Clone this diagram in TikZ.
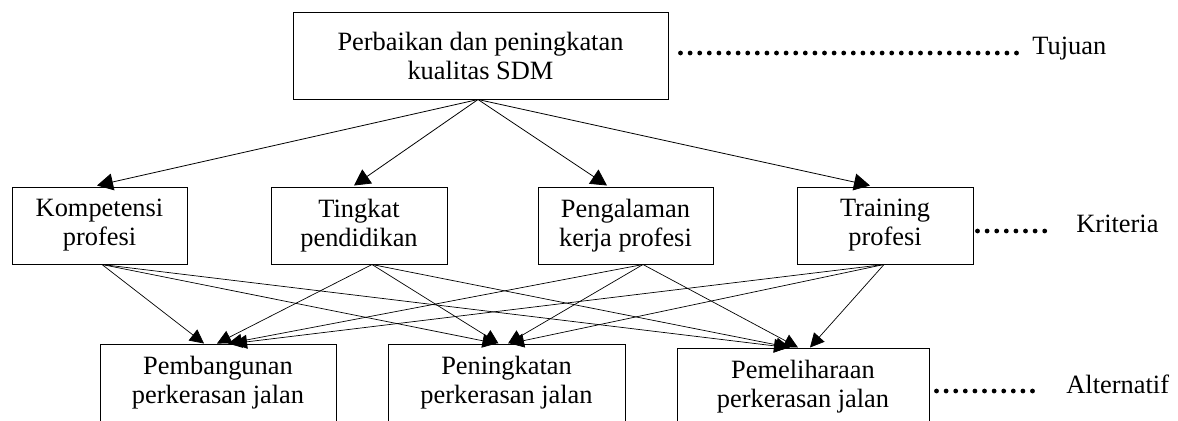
\documentclass[tikz,border=0pt]{standalone}
\usepackage{fontspec}
\setmainfont{Liberation Serif}
\usetikzlibrary{arrows.meta,calc}

\begin{document}
\begin{tikzpicture}[x=0.5pt,y=-0.5pt]

\tikzstyle{box}=[draw,line width=0.5pt,inner sep=0pt,align=center,font=\fontsize{13.2}{14.5}\selectfont]
\tikzstyle{toplink}=[line width=0.4pt,-{Triangle[length=8pt,width=8.5pt]}]
\tikzstyle{link}=[line width=0.35pt,-{Triangle[length=7pt,width=7pt]}]
\tikzstyle{dots}=[line width=2.4pt,line cap=round,dash pattern=on 0pt off 4.8pt]
\tikzstyle{level}=[anchor=base west,inner sep=0pt,font=\fontsize{13.2}{14.5}\selectfont]

\useasboundingbox (0,0) rectangle (1178,420);
\clip (0,0) rectangle (1178,420);

% Tujuan
\node[box,minimum width=187.5pt,minimum height=43.5pt] (tujuan) at (480.5,55.5) {Perbaikan dan peningkatan\\kualitas SDM};

% Kriteria
\node[box,minimum width=87.5pt,minimum height=38.5pt] (kompetensi) at (99.5,225.5) {Kompetensi\\profesi};
\node[box,minimum width=88pt,minimum height=38.5pt] (pendidikan) at (359,225.5) {Tingkat\\pendidikan};
\node[box,minimum width=87.5pt,minimum height=38.5pt] (pengalaman) at (625.5,225.5) {Pengalaman\\kerja profesi};
\node[box,minimum width=88pt,minimum height=38.5pt] (training) at (885,225.5) {Training\\profesi};

% Alternatif
\node[box,minimum width=118pt,minimum height=38.5pt] (pembangunan) at (218,382.5) {Pembangunan\\perkerasan jalan};
\node[box,minimum width=118.5pt,minimum height=38.5pt] (peningkatan) at (506.5,382.5) {Peningkatan\\perkerasan jalan};
\node[box,minimum width=126pt,minimum height=38.5pt] (pemeliharaan) at (803,386.5) {Pemeliharaan\\perkerasan jalan};

% tingkat
\node[level] (lbltujuan) at (1032,54) {Tujuan};
\node[level] (lblkriteria) at (1076,232) {Kriteria};
\node[level] (lblalternatif) at (1066,393) {Alternatif};

\draw[dots] ($(tujuan.east)+(12,-2.5)$) -- ($(lbltujuan.base west)+(-9,-1)$);
\draw[dots] ($(training.east)+(4,5.5)$) -- ($(lblkriteria.base west)+(-23,-1)$);
\draw[dots] ($(pemeliharaan.east)+(7,4.5)$) -- ($(lblalternatif.base west)+(-27,-2)$);

% tujuan -> kriteria
\draw[toplink] ($(tujuan.south)+(-2.5,0)$) -- ($(kompetensi.north)+(-2.5,-1)$);
\draw[toplink] ($(tujuan.south)+(-2.5,0)$) -- ($(pendidikan.north)+(-5,-1)$);
\draw[toplink] ($(tujuan.south)+(-2.5,0)$) -- ($(pengalaman.north)+(-18.5,-1)$);
\draw[toplink] ($(tujuan.south)+(-2.5,0)$) -- ($(training.north)+(-15,-1)$);

% kriteria -> pembangunan
\draw[link] ($(kompetensi.south)+(2.5,0)$) -- ($(pembangunan.north)+(-14,0)$);
\draw[link] ($(pendidikan.south)+(13,0)$) -- ($(pembangunan.north)+(-1,0)$);
\draw[link] ($(pengalaman.south)+(17.5,0)$) -- ($(pembangunan.north)+(10,0)$);
\draw[link] ($(training.south)+(-1,0)$) -- ($(pembangunan.north)+(15,0)$);

% kriteria -> peningkatan
\draw[link] ($(kompetensi.south)+(2.5,0)$) -- ($(peningkatan.north)+(-10,0)$);
\draw[link] ($(pendidikan.south)+(13,0)$) -- ($(peningkatan.north)+(-8,0)$);
\draw[link] ($(pengalaman.south)+(17.5,0)$) -- ($(peningkatan.north)+(1.5,0)$);
\draw[link] ($(training.south)+(-1,0)$) -- ($(peningkatan.north)+(3.5,0)$);

% kriteria -> pemeliharaan
\draw[link] ($(kompetensi.south)+(2.5,0)$) -- ($(pemeliharaan.north)+(-15,0)$);
\draw[link] ($(pendidikan.south)+(13,0)$) -- ($(pemeliharaan.north)+(-13,0)$);
\draw[link] ($(pengalaman.south)+(17.5,0)$) -- ($(pemeliharaan.north)+(-5,0)$);
\draw[link] ($(training.south)+(-1,0)$) -- ($(pemeliharaan.north)+(7,0)$);

\end{tikzpicture}
\end{document}
